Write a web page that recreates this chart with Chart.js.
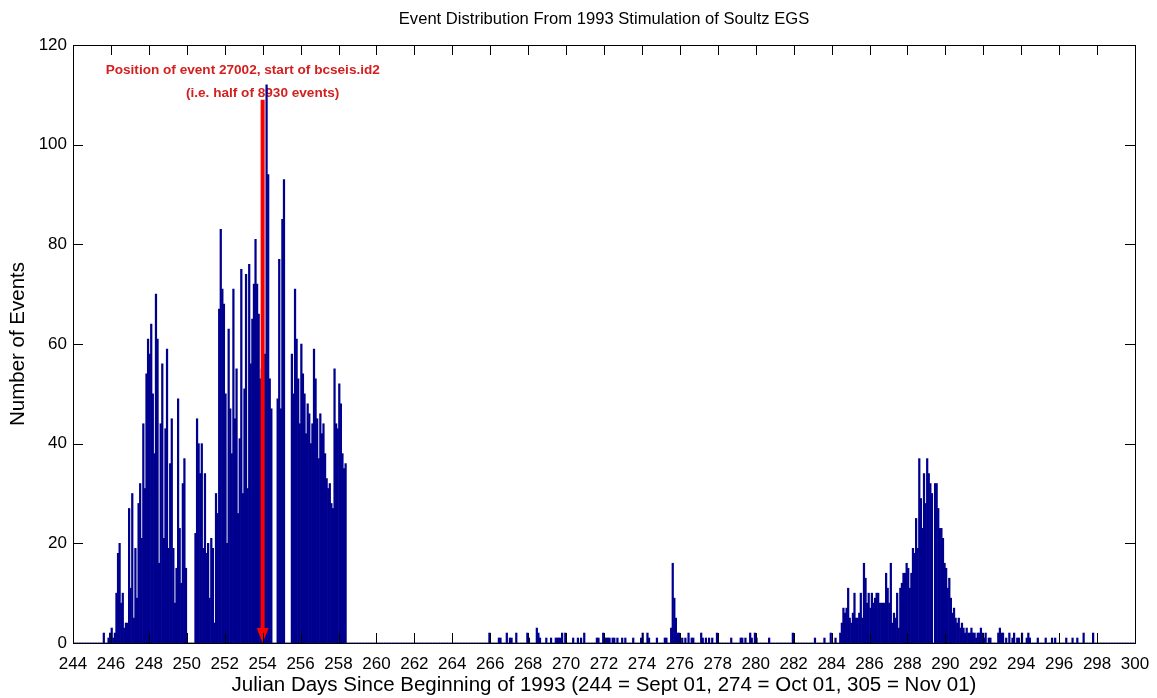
<!DOCTYPE html>
<html>
<head>
<meta charset="utf-8">
<title>Event Distribution From 1993 Stimulation of Soultz EGS</title>
<script src="https://cdn.jsdelivr.net/npm/chart.js@4/dist/chart.umd.min.js"></script>
<style>
  html, body { margin: 0; padding: 0; background: #fff; }
  canvas { display: block; }
</style>
</head>
<body>
<canvas id="chart" width="1157" height="698" style="width:1157px;height:698px"></canvas>
<script>
// Histogramme des événements de la stimulation de Soultz 1993 — casiers de 2 h.
const FONT = '"Liberation Sans", Arial, Helvetica, sans-serif';
const NAVY = "#00008f";

const FIRST_DAY = 244, LAST_DAY = 300, BINS_PER_DAY = 12;

// essaim principal, à partir du casier 19 (jour 245.58)
const swarmAFirstBin = 19;
const swarmA = [
  2, 0, 0, 1, 2, 3, 1, 2, 10, 18, 20,
  8, 10, 3, 4, 4, 27, 11, 30, 5, 19,
  9, 28, 32, 21, 44, 31, 54, 61, 58, 64,
  50, 38, 70, 61, 16, 44, 56, 21, 43, 59,
  19, 36, 45, 19, 8, 15, 49, 23, 12, 32,
  37, 15, 0, 0, 0, 0, 0, 22, 45, 40,
  34, 40, 19, 34, 18, 20, 9, 21, 19, 4,
  30, 26, 67, 83, 71, 68, 50, 20, 63, 47,
  38, 71, 45, 55, 26, 41, 75, 30, 51, 74,
  31, 76, 56, 65, 72, 81, 72, 66, 53, 55,
  50, 58, 112, 94, 53, 47, 0, 0, 0, 49,
  77, 47, 85, 93, 0, 0, 0, 0, 58, 50,
  71, 61, 53, 44, 60, 54, 50, 42, 48, 46,
  40, 44, 59, 53, 45, 37, 46, 42, 44, 38,
  33, 31, 32, 28, 27, 55, 44, 43, 52, 48,
  38, 35, 36,
];

// second essaim (jour 284.4 -> 294.4)
const swarmBFirstBin = 485;
const swarmB = [
  2, 4, 7, 6, 7, 11, 5, 4, 6, 10,
  5, 5, 6, 10, 5, 16, 13, 8, 10, 7,
  10, 8, 9, 10, 10, 8, 8, 8, 8, 14,
  11, 8, 16, 4, 6, 5, 10, 3, 11, 12,
  14, 14, 16, 15, 11, 14, 19, 18, 25, 19,
  37, 29, 23, 34, 28, 37, 34, 32, 30, 0,
  32, 32, 27, 23, 23, 21, 16, 15, 11, 13,
  9, 6, 7, 5, 4, 5, 3, 4, 3, 2,
  3, 2, 2, 3, 2, 2, 1, 2, 2, 3,
  2, 1, 2, 0, 1, 1, 0, 0, 0, 0,
  2, 3, 2, 2, 0, 1, 0, 2, 0, 1,
  2, 0, 1, 1, 0, 2, 0, 0, 1, 2, 1,
];

// événements isolés entre les deux essaims et après
const isolatedBins = [
  263, 269, 270, 274, 276, 277, 280, 287, 288, 293,
  294, 295, 299, 302, 305, 306, 307, 308, 309, 311,
  316, 319, 321, 323, 331, 332, 335, 336, 337, 338,
  339, 341, 342, 344, 347, 349, 354, 359, 360, 363,
  364, 369, 374, 375, 378, 379, 380, 381, 382, 383,
  385, 387, 389, 391, 392, 397, 398, 400, 402, 404,
  407, 416, 422, 423, 425, 428, 429, 431, 432, 440,
  455, 469, 475, 479, 482,
  610, 615, 619, 621, 628, 632, 635, 639, 645,
];
const isolatedCounts = [
  2, 1, 1, 2, 1, 1, 2, 2, 1, 3,
  2, 1, 1, 1, 1, 1, 1, 1, 2, 2,
  1, 1, 1, 2, 1, 1, 2, 1, 1, 1,
  1, 1, 1, 1, 1, 1, 1, 1, 2, 2,
  1, 1, 1, 1, 3, 16, 9, 5, 2, 2,
  1, 1, 2, 1, 1, 2, 1, 1, 1, 1,
  2, 1, 1, 1, 1, 2, 1, 2, 1, 1,
  2, 1, 1, 2, 1,
  1, 1, 1, 1, 1, 1, 1, 2, 2,
];

const dayTicks = [244, 246, 248, 250, 252, 254, 256, 258, 260, 262, 264, 266, 268, 270, 272,
  274, 276, 278, 280, 282, 284, 286, 288, 290, 292, 294, 296, 298, 300];
const countTicks = [0, 20, 40, 60, 80, 100, 120];

const markerDay = 254.0, markerTop = 109;
const markerLines = ["Position of event 27002, start of bcseis.id2", "(i.e. half of 8930 events)"];

const TITLE = "Event Distribution From 1993 Stimulation of Soultz EGS";
const X_TITLE = "Julian Days Since Beginning of 1993 (244 = Sept 01, 274 = Oct 01, 305 = Nov 01)";
const Y_TITLE = "Number of Events";

const counts = new Array((LAST_DAY - FIRST_DAY) * BINS_PER_DAY).fill(0);
swarmA.forEach((v, k) => counts[swarmAFirstBin + k] = v);
swarmB.forEach((v, k) => counts[swarmBFirstBin + k] = v);
isolatedBins.forEach((b, k) => counts[b] = isolatedCounts[k]);
const points = counts.map((y, i) => ({ x: FIRST_DAY + (i + 0.5) / BINS_PER_DAY, y }));

// cadre, graduations intérieures, titre et flèche rouge
const decor = {
  id: "decor",
  beforeDatasetsDraw(chart) {
    const { ctx, scales: { x, y } } = chart;
    const ax = x.getPixelForValue(markerDay);
    ctx.save();
    ctx.fillStyle = "#d21f1f";
    ctx.font = `bold 13.6px ${FONT}`;
    ctx.textBaseline = "middle";
    ctx.textAlign = "left";
    ctx.fillText(markerLines[0], ax - 157, y.getPixelForValue(115));
    ctx.textAlign = "center";
    ctx.fillText(markerLines[1], ax, y.getPixelForValue(110.4));
    ctx.restore();
  },
  afterDatasetsDraw(chart) {
    const { ctx, scales: { x, y } } = chart;
    const ax = x.getPixelForValue(markerDay);
    const top = y.getPixelForValue(markerTop), tip = y.getPixelForValue(0);
    ctx.save();
    ctx.strokeStyle = ctx.fillStyle = "#f00";
    ctx.lineWidth = 4;
    ctx.beginPath(); ctx.moveTo(ax, top); ctx.lineTo(ax, tip - 12); ctx.stroke();
    ctx.beginPath();
    ctx.moveTo(ax - 6, tip - 15); ctx.lineTo(ax + 6, tip - 15); ctx.lineTo(ax, tip);
    ctx.closePath(); ctx.fill();
    ctx.restore();
  },
  afterDraw(chart) {
    const { ctx, chartArea: a, scales: { x, y } } = chart;
    ctx.save();
    ctx.strokeStyle = "#000";
    ctx.lineWidth = 1;
    ctx.strokeRect(Math.round(a.left) + 0.5, Math.round(a.top) + 0.5,
                   Math.round(a.right - a.left), Math.round(a.bottom - a.top));
    ctx.beginPath();
    dayTicks.forEach((d) => {
      const px = Math.round(x.getPixelForValue(d)) + 0.5;
      ctx.moveTo(px, a.bottom); ctx.lineTo(px, a.bottom - 10);
      ctx.moveTo(px, a.top); ctx.lineTo(px, a.top + 10);
    });
    countTicks.forEach((c) => {
      const py = Math.round(y.getPixelForValue(c)) + 0.5;
      ctx.moveTo(a.left, py); ctx.lineTo(a.left + 10, py);
      ctx.moveTo(a.right, py); ctx.lineTo(a.right - 10, py);
    });
    ctx.stroke();
    ctx.fillStyle = "#000";
    ctx.font = `16.6px ${FONT}`;
    ctx.textAlign = "center";
    ctx.textBaseline = "middle";
    ctx.fillText(TITLE, (a.left + a.right) / 2, 19);
    ctx.restore();
  },
};

const tickFont = { family: FONT, size: 17 };
const labelFont = { family: FONT, size: 20.5 };

new Chart(document.getElementById("chart"), {
  type: "bar",
  data: { datasets: [{
    data: points, backgroundColor: NAVY, borderWidth: 0,
    barPercentage: 1, categoryPercentage: 1,
  }] },
  options: {
    responsive: false, animation: false, devicePixelRatio: 1,
    layout: { padding: { top: 45, right: 22, left: 0, bottom: 0 } },
    plugins: { legend: { display: false }, tooltip: { enabled: false }, title: { display: false } },
    scales: {
      x: {
        type: "linear", min: FIRST_DAY, max: LAST_DAY, offset: false,
        afterFit: (s) => { s.height = 55; s.paddingLeft = 0; s.paddingRight = 0; },
        afterBuildTicks: (s) => { s.ticks = dayTicks.map((v) => ({ value: v })); },
        grid: { display: false, drawTicks: false }, border: { display: false },
        ticks: { autoSkip: false, maxRotation: 0, padding: 11, color: "#000", font: tickFont },
        title: { display: true, text: X_TITLE, color: "#000", font: labelFont, padding: { top: 0, bottom: 0 } },
      },
      y: {
        min: 0, max: 120,
        afterFit: (s) => { s.width = 73; s.paddingTop = 0; s.paddingBottom = 0; },
        afterBuildTicks: (s) => { s.ticks = countTicks.map((v) => ({ value: v })); },
        grid: { display: false, drawTicks: false }, border: { display: false },
        ticks: { padding: 6, color: "#000", font: tickFont },
        title: { display: true, text: Y_TITLE, color: "#000", font: labelFont, padding: { top: 6, bottom: 0 } },
      },
    },
  },
  plugins: [decor],
});
</script>
</body>
</html>
